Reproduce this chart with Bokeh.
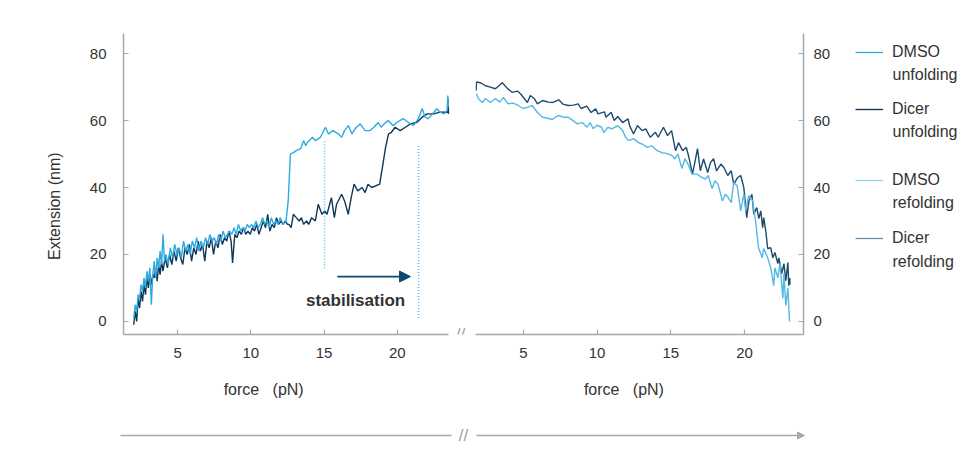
from bokeh.plotting import figure
from bokeh.layouts import row, column
from bokeh.models import (Legend, LegendItem, Label, Arrow, NormalHead, Range1d, FixedTicker)
from bokeh.embed import file_html
from bokeh.resources import INLINE

# ---------------- data ----------------
# unfolding (left panel)
unf_dmso_force = [2.0, 2.1, 2.2, 2.3, 2.4, 2.5, 2.6, 2.7, 2.8, 2.9, 3.0, 3.1, 3.2, 3.3, 3.4, 3.5, 3.6, 3.7, 3.8, 3.9,
                  4.0, 4.1, 4.2, 4.35, 4.5, 4.65, 4.8, 4.95, 5.1, 5.25, 5.4, 5.55, 5.7, 5.85, 6.0, 6.15, 6.3, 6.45,
                  6.6, 6.75, 6.9, 7.05, 7.2, 7.35, 7.5, 7.65, 7.8, 7.95, 8.1, 8.25, 8.4, 8.55, 8.7, 8.85, 9.0, 9.15,
                  9.3, 9.45, 9.6, 9.75, 9.9, 10.05, 10.2, 10.35, 10.5, 10.65, 10.8, 10.95, 11.1, 11.25, 11.4, 11.55,
                  11.7, 11.85, 12.0, 12.2, 12.4, 12.55, 12.7, 12.9, 13.1, 13.4, 13.6, 13.75, 13.86, 14.0, 14.2, 14.4,
                  14.75, 15.09, 15.3, 15.6, 15.97, 16.2, 16.4, 16.66, 16.9, 17.2, 17.47, 17.8, 18.15, 18.4, 18.7,
                  18.9, 19.1, 19.38, 19.7, 20.0, 20.4, 20.75, 21.1, 21.43, 21.7, 21.9, 22.1, 22.4, 22.7, 22.93, 23.2,
                  23.4, 23.45, 23.5]
unf_dmso_ext = [1, 5, 3, 8, 7, 11, 9, 13, 10, 15, 12, 16, 5, 14, 18, 13, 19, 16, 21, 17,
                26, 18, 20, 17, 22, 19, 23, 20, 22, 19, 24, 21, 23, 20, 24, 22, 25, 21,
                24, 22, 25, 23, 26, 24, 25, 23, 26, 24, 27, 25, 26, 27, 26, 28, 26, 29,
                27, 28, 27, 29, 28, 29, 28, 30, 28, 29, 31, 29, 30, 28, 31, 29,
                30, 29, 31, 29, 30, 36, 50, 50.4, 51, 51.6, 54, 52.5, 53.5, 54, 55, 54,
                55, 58, 56, 57, 56, 55, 57, 58.5, 56, 58, 59, 57, 57, 58, 59.4,
                58, 59, 60, 58.5, 59.5, 60.6, 59.5, 58.5, 60.5, 63.6, 61, 60.5, 62, 63.5, 62.5, 62,
                63, 67.5, 64]

unf_dicer_force = [2.0, 2.1, 2.2, 2.3, 2.4, 2.5, 2.6, 2.7, 2.8, 2.9, 3.0, 3.1, 3.2, 3.3, 3.4, 3.5, 3.6, 3.7, 3.8, 3.9,
                   4.0, 4.15, 4.3, 4.45, 4.6, 4.75, 4.9, 5.05, 5.2, 5.35, 5.5, 5.65, 5.8, 5.95, 6.1, 6.25, 6.4,
                   6.55, 6.7, 6.85, 7.0, 7.15, 7.3, 7.45, 7.6, 7.75, 7.9, 8.05, 8.2, 8.35, 8.5, 8.65, 8.75, 8.9,
                   9.05, 9.2, 9.35, 9.5, 9.65, 9.8, 9.95, 10.1, 10.25, 10.4, 10.55, 10.7, 10.85, 11.0, 11.15,
                   11.3, 11.45, 11.6, 11.75, 11.9, 12.05, 12.2, 12.35, 12.5, 12.6, 12.75, 12.9, 13.1, 13.3,
                   13.45, 13.6, 13.8, 13.95, 14.15, 14.4, 14.6, 14.85, 15.05, 15.2, 15.5, 15.7, 15.85, 16.2,
                   16.4, 16.65, 16.85, 17.05, 17.3, 17.6, 17.8, 18.0, 18.25, 18.8, 19.2, 19.4, 19.6, 19.85,
                   20.2, 20.55, 20.9, 21.35, 21.7, 22.05, 22.5, 22.9, 23.45, 23.46, 23.5]
unf_dicer_ext = [-1, 3, 0, 7, 4, 9, 6, 11, 8, 13, 10, 14, 11, 14, 13, 16, 12, 17, 14, 18,
                 15, 19, 16, 20, 17, 21, 18, 22, 19, 17, 22, 20, 23, 18, 22, 20, 24,
                 21, 23, 18, 24, 22, 25, 20, 24, 22, 26, 23, 25, 24, 27, 24, 17.5, 26,
                 25, 27, 26, 28, 26, 27, 26, 28, 27, 29, 26, 28, 30, 28, 32,
                 27, 29, 28, 31, 29, 30, 29, 30, 29, 29, 28, 32, 31, 30,
                 31, 29, 30, 29, 31, 30, 35, 32, 33, 32, 37, 31, 35, 38,
                 36, 32, 37, 41, 39, 40, 38.5, 41, 40, 41, 52, 56, 56.5, 58,
                 57, 58, 59, 59.5, 61, 62, 62, 62.5, 62.5, 66.5, 62]

# refolding (right panel)
ref_dmso_force = [1.81, 1.95, 2.22, 2.42, 2.76, 3.1, 3.4, 3.64, 3.97, 4.3, 4.65, 4.99, 5.3, 5.6, 5.95, 6.3, 6.63,
                  6.96, 7.17, 7.37, 7.7, 8.04, 8.37, 8.64, 9.0, 9.32, 9.52, 9.73, 10.0, 10.3, 10.46, 10.73, 11.0,
                  11.4, 11.73, 11.93, 12.13, 12.47, 12.8, 13.05, 13.4, 13.7, 14.07, 14.4, 14.7, 15.08, 15.28,
                  15.48, 15.75, 15.96, 16.16, 16.44, 16.78, 17.1, 17.35, 17.54, 17.8, 18.0, 18.2, 18.5, 18.7,
                  18.9, 19.1, 19.26, 19.5, 19.74, 19.95, 20.08, 20.28, 20.55, 20.75, 20.95, 21.2, 21.3, 21.57,
                  21.78, 21.98, 22.06, 22.26, 22.4, 22.6, 22.67, 22.8, 22.94, 23.05]
ref_dmso_ext = [68, 66.5, 65.4, 66.6, 65.4, 66.6, 65.5, 66.9, 65, 65.2, 64.5, 63.6, 64, 64.5, 62.4, 61, 60.7,
                60.3, 61, 61.5, 61, 61, 60, 59, 59.4, 58, 59.4, 57.6, 58.6, 58, 56.4, 58, 57.5,
                58.5, 57, 55, 54, 54.6, 53.4, 53, 52, 52.5, 51, 50.4, 50.2, 49.5, 48.6,
                50, 45.7, 48.6, 47, 44, 44, 43, 42.5, 43.6, 39.7, 42, 41, 36, 38,
                37, 35.5, 41.5, 40.5, 33, 38, 33, 37.6, 36, 30, 22, 19, 21.8, 19,
                16, 10.7, 16, 13, 17.3, 6.9, 14.3, 4.8, 10, 0]

ref_dicer_force = [1.80, 1.81, 2.08, 2.42, 2.76, 3.10, 3.57, 3.91, 4.25, 4.59, 4.80, 5.27, 5.47, 5.75, 5.95, 6.3,
                   6.7, 7.01, 7.4, 7.69, 8.03, 8.4, 8.71, 8.91, 9.3, 9.59, 9.9, 10.06, 10.5, 10.6, 10.95, 11.16,
                   11.4, 11.73, 12.1, 12.2, 12.47, 12.74, 13.05, 13.3, 13.6, 13.96, 14.14, 14.5, 14.78, 15.05,
                   15.32, 15.52, 15.8, 16.05, 16.2, 16.47, 16.68, 16.81, 17.0, 17.22, 17.5, 17.7, 17.9, 18.1,
                   18.4, 18.6, 18.86, 19.1, 19.27, 19.54, 19.74, 19.95, 20.15, 20.3, 20.5, 20.63, 20.83, 20.97,
                   21.1, 21.23, 21.3, 21.44, 21.57, 21.78, 21.92, 22.06, 22.26, 22.33, 22.53, 22.67, 22.8,
                   22.94, 23.0, 23.07, 23.08]
ref_dicer_ext = [69, 71.5, 71.3, 70.4, 70, 69.5, 71.3, 69.6, 68.4, 68.8, 68, 65.4, 67.5, 66.5, 65, 66,
                 65.5, 65.4, 66.2, 64.9, 64.5, 64.6, 65, 63.6, 64.3, 62.4, 63.5, 62, 62.6, 61, 62.5, 60,
                 61.2, 59.4, 60.5, 58.5, 56, 58.5, 57, 57.5, 55, 56.5, 55, 58, 55.5, 57,
                 51, 53.4, 51, 52, 49.5, 44, 48.6, 51.6, 45, 48.5, 44.5, 47.5, 48.6, 45,
                 47, 46, 43.6, 45, 41, 43, 43.6, 40, 31, 36, 38, 32, 34, 30.7,
                 33, 28, 31, 27, 21.8, 22, 19, 20.6, 17.3, 19, 14.3, 17.3, 12.2,
                 17.6, 10.7, 13, 11]

# stabilisation markers (left panel)
stab_force = [15.03, 21.45]
stab_top = [54, 53]
stab_bottom = [15.8, 1]
stab_arrow_force = [15.9, 20.9]
stab_arrow_ext = 13.4
stab_label_pos = (17.15, 6.3)

x_ticks = [5, 10, 15, 20]
y_ticks = [0, 20, 40, 60, 80]

legend_first = ["DMSO", "Dicer", "DMSO", "Dicer"]
legend_second = ["unfolding", "unfolding", "refolding", "refolding"]

# ---------------- style ----------------
C_DMSO_U = "#2eaae0"
C_DICER_U = "#0f3757"
C_DMSO_R = "#55b9e4"
C_DICER_R = "#1d4b6e"
LEG_COLORS = ["#29abe2", "#0b3050", "#8fd3ee", "#6a8ca6"]
C_STAB = "#55bbe6"
AX = "#a8a8a8"
TXT = "#333333"
FONT = "Liberation Sans"
NBSP = "\u00a0"
XLABEL = "force" + NBSP * 2 + " (pN)"

y_range = Range1d(-3.9, 86)


def style_axis(ax, standoff):
    ax.axis_line_color = AX
    ax.axis_line_width = 1.5
    ax.major_tick_line_color = AX
    ax.major_tick_line_width = 1.2
    ax.major_tick_in = 5
    ax.major_tick_out = 0
    ax.minor_tick_line_color = None
    ax.major_label_text_font = FONT
    ax.major_label_text_font_size = "15px"
    ax.major_label_text_color = TXT
    ax.major_label_standoff = standoff
    ax.axis_label_text_font = FONT
    ax.axis_label_text_font_size = "16px"
    ax.axis_label_text_font_style = "normal"
    ax.axis_label_text_color = TXT


def base(p):
    p.outline_line_color = None
    p.background_fill_color = "white"
    p.border_fill_color = "white"


# ---------------- left panel ----------------
p1 = figure(width=472, height=410, x_range=Range1d(1.3, 25.0), y_range=y_range,
            output_backend="svg", toolbar_location=None,
            min_border_left=123, min_border_right=2, min_border_top=33, min_border_bottom=76)
base(p1)
p1.xgrid.visible = False
p1.ygrid.visible = False
p1.xaxis.ticker = FixedTicker(ticks=x_ticks)
p1.yaxis.ticker = FixedTicker(ticks=y_ticks)
p1.xaxis.bounds = (1.3, 23.5)
style_axis(p1.xaxis[0], 13)
style_axis(p1.yaxis[0], 17)
p1.xaxis.axis_label = XLABEL + NBSP * 15
p1.xaxis.axis_label_standoff = 20
p1.yaxis.axis_label = "Extension (nm)" + NBSP * 10
p1.yaxis.axis_label_standoff = 24

r_dicer_u = p1.line(unf_dicer_force, unf_dicer_ext, line_color=C_DICER_U, line_width=1.4)
r_dmso_u = p1.line(unf_dmso_force, unf_dmso_ext, line_color=C_DMSO_U, line_width=1.4)

for f, y0, y1 in zip(stab_force, stab_bottom, stab_top):
    p1.segment(x0=[f], y0=[y0], x1=[f], y1=[y1],
               line_color=C_STAB, line_width=1.5, line_dash="1 2")
p1.add_layout(Arrow(x_start=stab_arrow_force[0], y_start=stab_arrow_ext,
                    x_end=stab_arrow_force[1], y_end=stab_arrow_ext,
                    line_color="#0d4a70", line_width=1.6,
                    end=NormalHead(size=11, fill_color="#0d4a70", line_color="#0d4a70")))
p1.add_layout(Label(x=stab_label_pos[0], y=stab_label_pos[1], text="stabilisation",
                    text_font=FONT, text_font_size="17px", text_font_style="bold",
                    text_color=TXT, text_align="center", text_baseline="middle"))
# axis break mark
p1.add_layout(Label(x=24.32, y=-3.9, text="//", text_font=FONT, text_font_size="17px",
                    text_color="#a0a0a0", text_align="center", text_baseline="middle"))

# ---------------- right panel ----------------
p2 = figure(width=365, height=410, x_range=Range1d(1.75, 24.0), y_range=y_range,
            y_axis_location="right", output_backend="svg", toolbar_location=None,
            min_border_left=3, min_border_right=34, min_border_top=33, min_border_bottom=76)
base(p2)
p2.xgrid.visible = False
p2.ygrid.visible = False
p2.xaxis.ticker = FixedTicker(ticks=x_ticks)
p2.yaxis.ticker = FixedTicker(ticks=y_ticks)
style_axis(p2.xaxis[0], 13)
style_axis(p2.yaxis[0], 10)
p2.xaxis.axis_label = XLABEL + NBSP * 7
p2.xaxis.axis_label_standoff = 20

r_dicer_r = p2.line(ref_dicer_force, ref_dicer_ext, line_color=C_DICER_R, line_width=1.4)
r_dmso_r = p2.line(ref_dmso_force, ref_dmso_ext, line_color=C_DMSO_R, line_width=1.4)

# ---------------- legend panel ----------------
# (its frame is aligned with the plot frames of the row: page y 33..334)
pl = figure(width=125, height=410, x_range=Range1d(0, 125), y_range=Range1d(334, 33),
            x_axis_location=None, y_axis_location=None,
            output_backend="svg", toolbar_location=None,
            min_border_left=0, min_border_right=0, min_border_top=33, min_border_bottom=76)
base(pl)
pl.xgrid.visible = False
pl.ygrid.visible = False
leg_series = [(unf_dmso_force, unf_dmso_ext), (unf_dicer_force, unf_dicer_ext),
              (ref_dmso_force, ref_dmso_ext), (ref_dicer_force, ref_dicer_ext)]
leg_r = [pl.line(f, e, line_color=c, line_width=1.3, visible=False)
         for (f, e), c in zip(leg_series, LEG_COLORS)]


def make_legend(idx, loc, spacing):
    lg = Legend(items=[LegendItem(label=legend_first[i], renderers=[leg_r[i]]) for i in idx],
                location=loc)
    lg.border_line_color = None
    lg.background_fill_alpha = 0
    lg.margin = 0
    lg.padding = 0
    lg.glyph_width = 28
    lg.glyph_height = 20
    lg.label_height = 20
    lg.label_standoff = 9
    lg.spacing = spacing
    lg.label_text_font = FONT
    lg.label_text_font_size = "16px"
    lg.label_text_color = TXT
    return lg


pl.add_layout(make_legend([0, 1], (18, 215), 37))
pl.add_layout(make_legend([2, 3], (18, 86), 38))
for txt, yy in zip(legend_second, [74, 131, 202, 261]):
    pl.add_layout(Label(x=55, y=yy, text=txt, text_font=FONT, text_font_size="16px",
                        text_color=TXT, text_align="left", text_baseline="middle"))

# ---------------- time arrow below ----------------
p3 = figure(width=962, height=56, x_range=Range1d(0, 962), y_range=Range1d(56, 0),
            x_axis_location=None, y_axis_location=None,
            output_backend="svg", toolbar_location=None,
            min_border_left=0, min_border_right=0, min_border_top=0, min_border_bottom=0)
base(p3)
p3.xgrid.visible = False
p3.ygrid.visible = False
p3.segment(x0=[120], y0=[25], x1=[451], y1=[25], line_color="#a8a8a8", line_width=1.5)
p3.add_layout(Arrow(x_start=476, y_start=25, x_end=804, y_end=25, line_color="#a8a8a8",
                    line_width=1.5, end=NormalHead(size=7, fill_color="#a8a8a8", line_color="#a8a8a8")))
p3.add_layout(Label(x=463, y=25, text="//", text_font=FONT, text_font_size="17px",
                    text_color="#a0a0a0", text_align="center", text_baseline="middle"))

layout = column(row(p1, p2, pl), p3)
open("out.html", "w").write(file_html(layout, INLINE))
